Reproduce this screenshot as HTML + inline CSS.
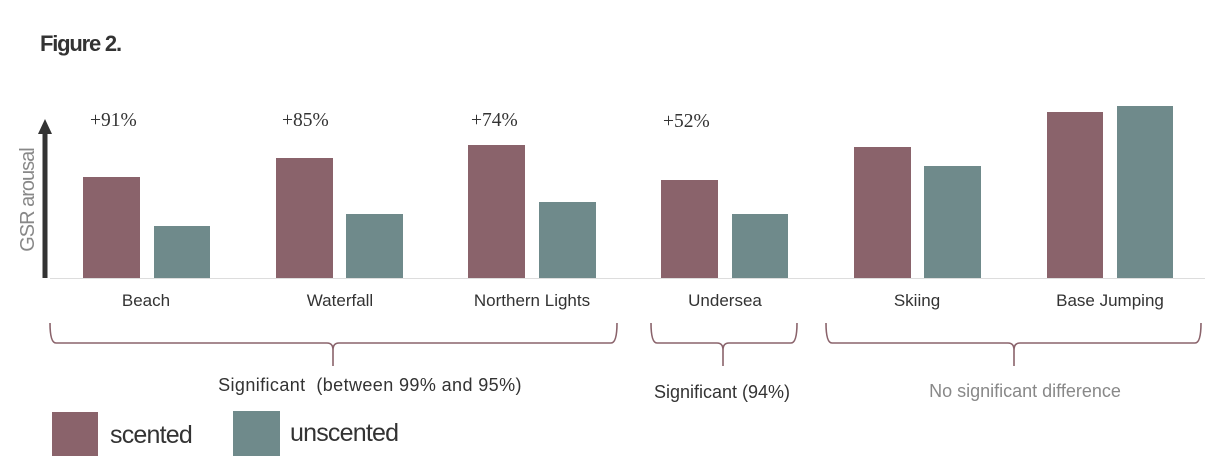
<!DOCTYPE html>
<html><head><meta charset="utf-8"><style>
html,body{margin:0;padding:0;background:#fff;}
svg{display:block;font-family:"Liberation Sans",sans-serif;}
</style></head><body>
<svg width="1215" height="461" viewBox="0 0 1215 461">
<text x="40" y="51" font-size="22" font-weight="bold" fill="#333" letter-spacing="-1.2">Figure 2.</text>
<line x1="50" y1="278.5" x2="1205" y2="278.5" stroke="#ddd" stroke-width="1"/>
<line x1="45" y1="278" x2="45" y2="132" stroke="#333" stroke-width="5"/>
<polygon points="45,119 38,134 52,134" fill="#333"/>
<text transform="translate(34,200) rotate(-90)" font-size="20" fill="#888" text-anchor="middle" letter-spacing="-1">GSR arousal</text>
<g fill="#8a636b">
<rect x="83" y="177" width="57" height="101"/>
<rect x="276" y="158" width="57" height="120"/>
<rect x="468" y="145" width="57" height="133"/>
<rect x="661" y="180" width="57" height="98"/>
<rect x="854" y="147" width="57" height="131"/>
<rect x="1047" y="112" width="56" height="166"/>
</g>
<g fill="#6f8a8b">
<rect x="154" y="226" width="56" height="52"/>
<rect x="346" y="214" width="57" height="64"/>
<rect x="539" y="202" width="57" height="76"/>
<rect x="732" y="214" width="56" height="64"/>
<rect x="924" y="166" width="57" height="112"/>
<rect x="1117" y="106" width="56" height="172"/>
</g>
<g font-family="Liberation Serif,serif" font-size="19.5" fill="#333">
<text x="90" y="126">+91%</text>
<text x="282" y="126">+85%</text>
<text x="471" y="126">+74%</text>
<text x="663" y="127">+52%</text>
</g>
<g font-size="17" fill="#333" text-anchor="middle">
<text x="146" y="306">Beach</text>
<text x="340" y="306">Waterfall</text>
<text x="532" y="306">Northern Lights</text>
<text x="725" y="306">Undersea</text>
<text x="917" y="306">Skiing</text>
<text x="1110" y="306">Base Jumping</text>
</g>
<g fill="none" stroke="#8a636b" stroke-width="1.6">
<path d="M50,323 Q50,343 56,343 L327,343 Q333,343 333,350 L333,366 M333,350 Q333,343 339,343 L611,343 Q617,343 617,323"/>
<path d="M651,323 Q651,343 657,343 L717,343 Q723,343 723,350 L723,366 M723,350 Q723,343 729,343 L791,343 Q797,343 797,323"/>
<path d="M826,323 Q826,343 832,343 L1008,343 Q1014,343 1014,350 L1014,366 M1014,350 Q1014,343 1020,343 L1195,343 Q1201,343 1201,323"/>
</g>
<text x="370" y="391" font-size="18" fill="#333" text-anchor="middle" letter-spacing="0.4" xml:space="preserve">Significant  (between 99% and 95%)</text>
<text x="722" y="398" font-size="18" fill="#333" text-anchor="middle">Significant (94%)</text>
<text x="1025" y="397" font-size="18" fill="#888" text-anchor="middle">No significant difference</text>
<rect x="52" y="412" width="46" height="44" fill="#8a636b"/>
<rect x="233" y="411" width="47" height="45" fill="#6f8a8b"/>
<text x="110" y="443" font-size="25" fill="#333" letter-spacing="-0.8">scented</text>
<text x="290" y="441" font-size="25" fill="#333" letter-spacing="-0.8">unscented</text>
</svg>
</body></html>
